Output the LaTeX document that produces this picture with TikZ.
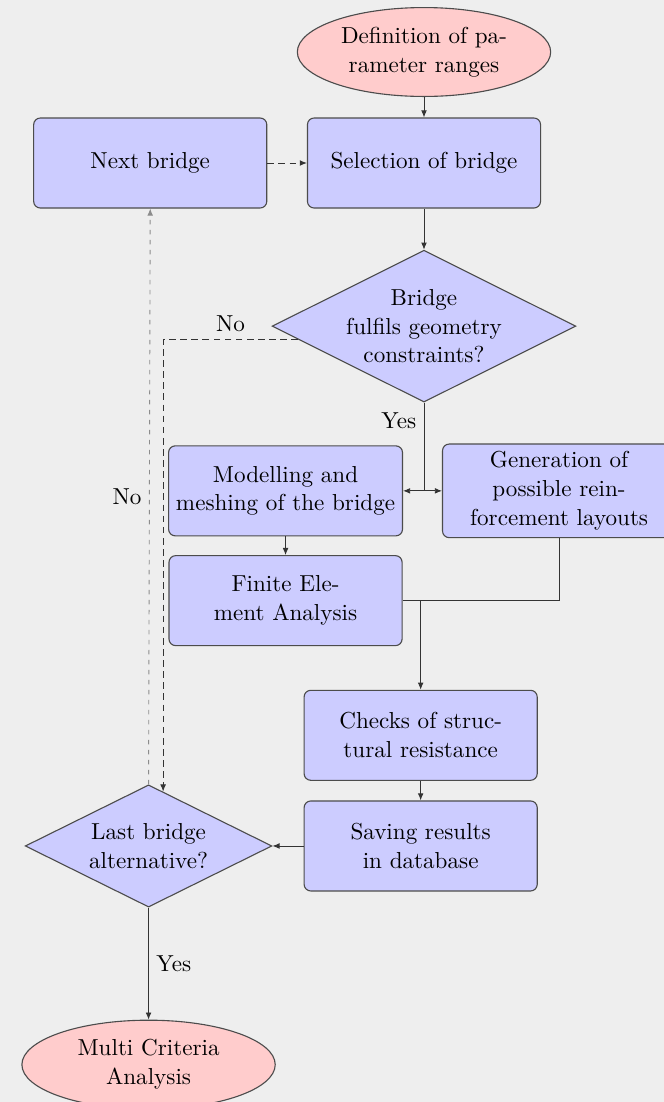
\documentclass[tikz,border=0pt]{standalone}
\usetikzlibrary{arrows.meta,positioning,shapes.geometric}
\definecolor{bgcol}{RGB}{238,238,238}

\begin{document}
\begin{tikzpicture}[
  font=\fontsize{10.4}{13}\selectfont,
  >={Latex[length=3.2pt,width=2.6pt]},
  process/.style={
    draw=black!70,
    fill=blue!20,
    rounded corners=3pt,
    align=center,
    line width=.5pt,
    minimum width=104.9pt,
    minimum height=40.5pt
  },
  terminal/.style={
    ellipse,
    draw=black!70,
    fill=red!20,
    align=center,
    inner sep=0pt,
    line width=.5pt,
    minimum width=114pt,
    minimum height=40pt
  },
  decision/.style={
    diamond,
    aspect=2,
    draw=black!70,
    fill=blue!20,
    align=center,
    inner sep=0pt,
    line width=.5pt
  },
  arrow/.style={->, line width=.4pt, draw=black!80},
  link/.style={line width=.4pt, draw=black!80},
  dasharrow/.style={->, line width=.4pt, draw=black!80, densely dashed},
  backarrow/.style={->, line width=.4pt, draw=black!45, dash pattern=on 2pt off 2.5pt}
]

\useasboundingbox (0,0) rectangle (298.8pt,-495.9pt);
\fill[bgcol] (0,0) rectangle (298.8pt,-495.9pt);
\clip (0,0) rectangle (298.8pt,-495.9pt);

\node[terminal] (def) at (190.8pt,-23.4pt) {Definition of pa-\\rameter ranges};

\node[process, below=9.2pt of def] (sel) {Selection of bridge};

\node[process, left=17.8pt of sel] (next) {Next bridge};

\node[decision, below=18.5pt of sel] (geom) {Bridge\\fulfils geometry\\constraints?};

\node[process, below=19.2pt of geom, xshift=-62.3pt] (model) {Modelling and\\meshing of the bridge};

\node[process, right=17.5pt of model] (gen) {Generation of\\possible rein-\\forcement layouts};

\node[process, below=8.4pt of model] (fea) {Finite Ele-\\ment Analysis};

\node[process, below=19.6pt of fea, xshift=60.8pt] (check) {Checks of struc-\\tural resistance};

\node[process, below=8.8pt of check] (save) {Saving results\\in database};

\node[decision, left=14pt of save, minimum width=111pt, minimum height=55pt] (last) {Last bridge\\alternative?};

\node[terminal, below=50.4pt of last] (mca) {Multi Criteria\\Analysis};

\coordinate (split) at (geom.south |- model.east);
\coordinate (merge) at (fea.east -| check.north);

\draw[arrow] (def) -- (sel);
\draw[dasharrow] (next) -- (sel);
\draw[arrow] (sel) -- (geom);
\draw[link] (geom.south) -- node[left, pos=.2] {Yes} (split);
\draw[arrow] (split) -- (model.east);
\draw[arrow] (split) -- (gen.west);
\draw[arrow] (model) -- (fea);
\draw[link] (gen.south) |- (fea.east);
\draw[arrow] (merge) -- (check);
\draw[arrow] (check) -- (save);
\draw[arrow] (save) -- (last);
\draw[arrow] (last) -- node[right] {Yes} (mca);

\draw[dasharrow] (geom.186) -| node[above, pos=.25] {No} (last.75);
\draw[backarrow] (last.north) -- node[left] {No} (next.south);

\end{tikzpicture}
\end{document}
